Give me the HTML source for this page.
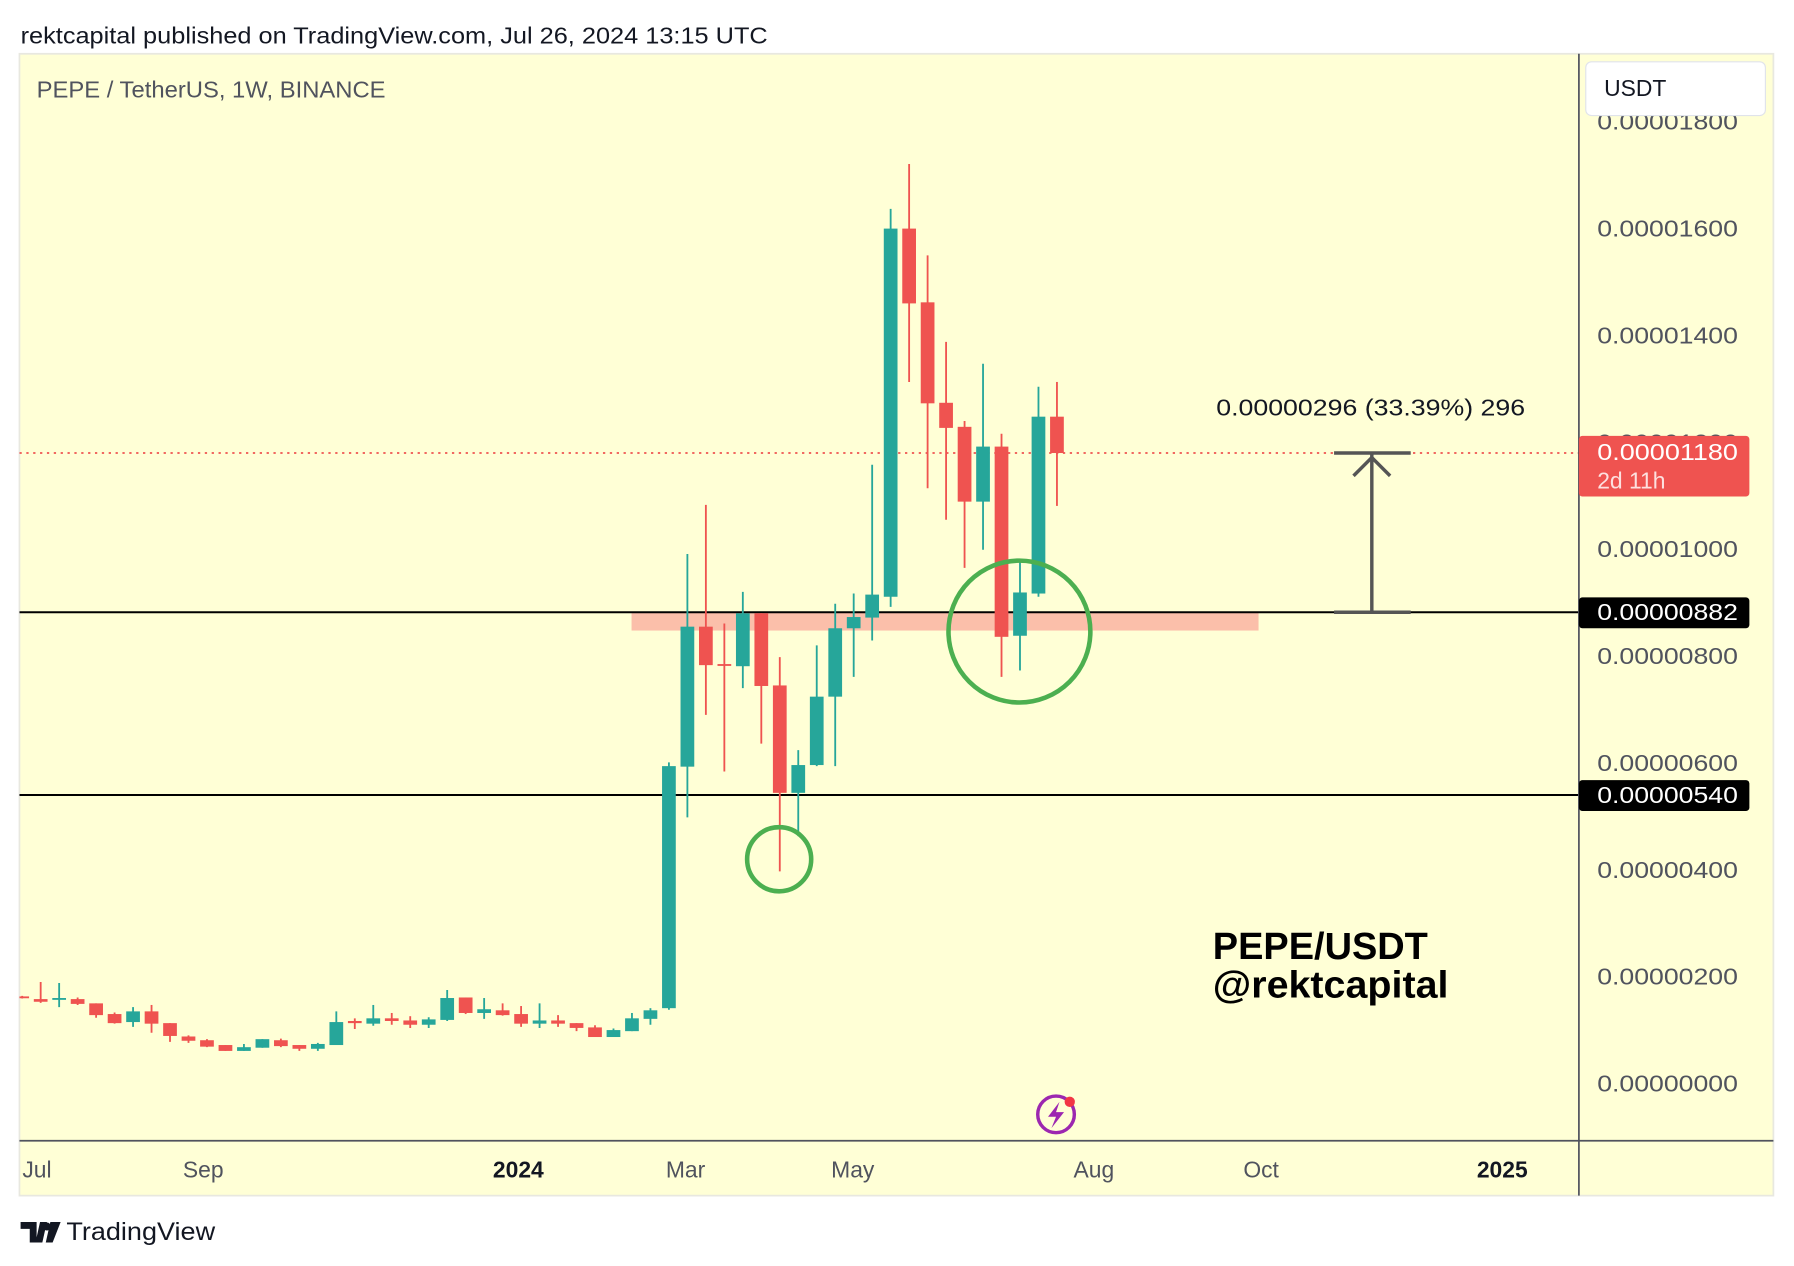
<!DOCTYPE html>
<html><head><meta charset="utf-8"><style>
html,body{margin:0;padding:0;background:#fff;width:1794px;height:1266px;overflow:hidden}
svg{display:block;font-family:"Liberation Sans",sans-serif}
</style></head><body>
<svg id="chart" width="1794" height="1266" viewBox="0 0 1568 1106.5" preserveAspectRatio="none" xmlns="http://www.w3.org/2000/svg">
<defs><clipPath id="pane"><rect x="17" y="47" width="1363" height="950"/></clipPath></defs>
<text x="18" y="38" font-size="20" fill="#131722" textLength="653" lengthAdjust="spacingAndGlyphs">rektcapital published on TradingView.com, Jul 26, 2024 13:15 UTC</text>
<rect x="17" y="47" width="1533" height="998" fill="#ffffd6" stroke="#e8e8e0" stroke-width="1.5"/>
<text x="32" y="85" font-size="20" fill="#50535e" textLength="305" lengthAdjust="spacingAndGlyphs">PEPE / TetherUS, 1W, BINANCE</text>
<g id="zones" clip-path="url(#pane)"></g>
<g id="candles" clip-path="url(#pane)"></g>
<g id="overlay"></g>
<line x1="1380" y1="47" x2="1380" y2="1045" stroke="#50535e" stroke-width="1.5"/>
<line x1="17" y1="997" x2="1550" y2="997" stroke="#50535e" stroke-width="1.5"/>
<g id="yaxis"></g>
<g id="xaxis"></g>
<rect x="1386" y="54" width="157" height="47" rx="5" fill="#fff" stroke="#e0e3eb"/>
<text x="1402" y="84" font-size="20" fill="#131722">USDT</text>
<g>
<circle cx="923" cy="974" r="16" fill="none" stroke="#9c27b0" stroke-width="3"/>
<path d="M926 963 L916 976 L923 976 L919 986 L930 972 L923 972 Z" fill="#9c27b0"/>
<circle cx="935" cy="963" r="4.5" fill="#f23645"/>
</g>
<g>
<path d="M18 1068 h14 v18 h-6 v-12 h-8z M35 1068 h6 l-4 18 h-6z" fill="#131722"/>
<circle cx="41" cy="1072" r="3.5" fill="#131722"/>
<path d="M44 1068 h9 l-7 18 h-6z" fill="#131722"/>
<text x="58" y="1084" font-size="22" fill="#131722" textLength="130" lengthAdjust="spacingAndGlyphs">TradingView</text>
</g>
</svg>
<script>
const NS="http://www.w3.org/2000/svg";
// values in units of 1e-8 USDT
const opens =[163,158,157,158,150,130,115,135,113,88,81,72,61,67,81,72,65,72,117,112,122,118,110,119,161,132,137,130,112,118,113,105,87,98,121,141,593,855,785,781,880,745,544,596,724,852,872,911,1600,1462,1274,1229,1089,1192,838,917,1248];
const highs =[164,190,188,161,150,133,143,147,113,90,83,72,74,83,84,72,76,135,122,147,132,126,124,175,161,160,150,145,150,128,113,109,103,132,141,601,991,1083,861,920,880,798,624,820,898,917,1158,1637,1721,1550,1388,1240,1347,1216,976,1304,1313];
const lows  =[159,151,143,147,123,112,106,95,78,76,68,61,61,67,68,61,61,72,102,108,110,104,104,117,130,121,127,106,104,106,98,87,87,98,110,138,498,690,584,740,636,397,463,594,594,761,829,892,1313,1114,1055,965,999,761,773,911,1081];
const closes=[160,153,160,149,128,113,135,112,89,80,69,61,68,83,70,65,74,115,113,122,117,110,120,160,132,139,128,112,118,112,104,87,100,122,137,594,855,783,782,880,744,544,596,724,852,873,915,1600,1460,1273,1227,1089,1192,836,919,1248,1180];
const priceTicks=[0,200,400,600,800,1000,1200,1400,1600,1800];
const timeLabels=["Jul","Sep","2024","Mar","May","Aug","Oct","2025"];
const timeWeeks=[0.8,9.8,26.85,35.9,44.95,58,67.05,80.1];
const timeBold=[false,false,true,false,false,false,false,true];
const levelValues=[882,540];
const lastPrice=1180;
const measureFrom=882, measureTo=1180;

const y=v=>947-v*93.4/200;
const x=i=>19.4+i*16.15;
function mk(tag,attrs,parent){const e=document.createElementNS(NS,tag);for(const k in attrs)e.setAttribute(k,attrs[k]);parent.appendChild(e);return e;}

const zones=document.getElementById('zones');
const z=mk('rect',{x:552,y:y(measureFrom),width:548,height:16,fill:'#fbbfaa'},zones);


levelValues.forEach(v=>{
  const l=mk('line',{x1:17,x2:1380,y1:y(v),y2:y(v),stroke:'#000','stroke-width':1.8},zones);
  
  
});
const dl=mk('line',{x1:17,x2:1380,y1:y(lastPrice),y2:y(lastPrice),stroke:'#ef5350','stroke-width':1.5,'stroke-dasharray':'2 4'},zones);



const cg=document.getElementById('candles');
for(let i=0;i<opens.length;i++){
  const up=closes[i]>=opens[i];const col=up?'#26a69a':'#ef5350';
  const g=mk('g',{},cg);
  
  
  mk('line',{x1:x(i),x2:x(i),y1:y(highs[i]),y2:y(lows[i]),stroke:col,'stroke-width':1.6},g);
  const t=y(Math.max(opens[i],closes[i])),b=y(Math.min(opens[i],closes[i]));
  mk('rect',{x:x(i)-6,y:t,width:12,height:Math.max(b-t,1.6),fill:col},g);
}

const ov=document.getElementById('overlay');
const c1=mk('circle',{cx:681,cy:751,r:28,fill:'none',stroke:'#4caf50','stroke-width':4},ov);


const c2=mk('circle',{cx:891,cy:552,r:62,fill:'none',stroke:'#4caf50','stroke-width':4},ov);


const mg=mk('g',{stroke:'#555','stroke-width':3,fill:'none'},ov);


const yt=y(measureTo),yb=y(measureFrom);
mk('line',{x1:1166,x2:1233,y1:yt,y2:yt},mg);
mk('line',{x1:1166,x2:1233,y1:yb,y2:yb},mg);
mk('line',{x1:1199,x2:1199,y1:yt,y2:yb},mg);
mk('polyline',{points:`1183,${yt+20} 1199,${yt+4} 1215,${yt+20}`},mg);
const mt=mk('text',{x:1063,y:363,'font-size':20,fill:'#131722',textLength:270,lengthAdjust:'spacingAndGlyphs'},ov);
mt.textContent='0.00000296 (33.39%) 296';


const wm=mk('text',{x:1060,y:838,'font-size':33,'font-weight':'bold',fill:'#000',textLength:188,lengthAdjust:'spacingAndGlyphs'},ov);
wm.textContent='PEPE/USDT';


const wm2=mk('text',{x:1060,y:872,'font-size':33,'font-weight':'bold',fill:'#000',textLength:206,lengthAdjust:'spacingAndGlyphs'},ov);
wm2.textContent='@rektcapital';



const ya=document.getElementById('yaxis');
const fmt=v=>(v/1e8).toFixed(8);
priceTicks.forEach(v=>{
  const t=mk('text',{x:1396,y:y(v)+7,'font-size':20,fill:'#50535e',textLength:123,lengthAdjust:'spacingAndGlyphs'},ya);
  t.textContent=fmt(v);
  
  
});
levelValues.forEach(v=>{
  const g=mk('g',{},ya);
  
  
  mk('rect',{x:1380,y:y(v)-13,width:149,height:27,rx:3,fill:'#000'},g);
  const t=mk('text',{x:1396,y:y(v)+7,'font-size':20,fill:'#fff',textLength:123,lengthAdjust:'spacingAndGlyphs'},g);t.textContent=fmt(v);
});
const lg=mk('g',{},ya);


mk('rect',{x:1380,y:y(lastPrice)-15,width:149,height:53,rx:3,fill:'#ef5350'},lg);
const lt=mk('text',{x:1396,y:y(lastPrice)+6,'font-size':20,fill:'#fff',textLength:123,lengthAdjust:'spacingAndGlyphs'},lg);lt.textContent=fmt(lastPrice);
const lt2=mk('text',{x:1396,y:y(lastPrice)+31,'font-size':20,fill:'#fde0df'},lg);lt2.textContent='2d 11h';

const xa=document.getElementById('xaxis');
timeLabels.forEach((s,i)=>{
  const t=mk('text',{x:x(timeWeeks[i]),y:1029,'font-size':20,'text-anchor':'middle',fill:timeBold[i]?'#131722':'#50535e','font-weight':timeBold[i]?'bold':'normal'},xa);
  t.textContent=s;
  
  
});
</script>
</body></html>
